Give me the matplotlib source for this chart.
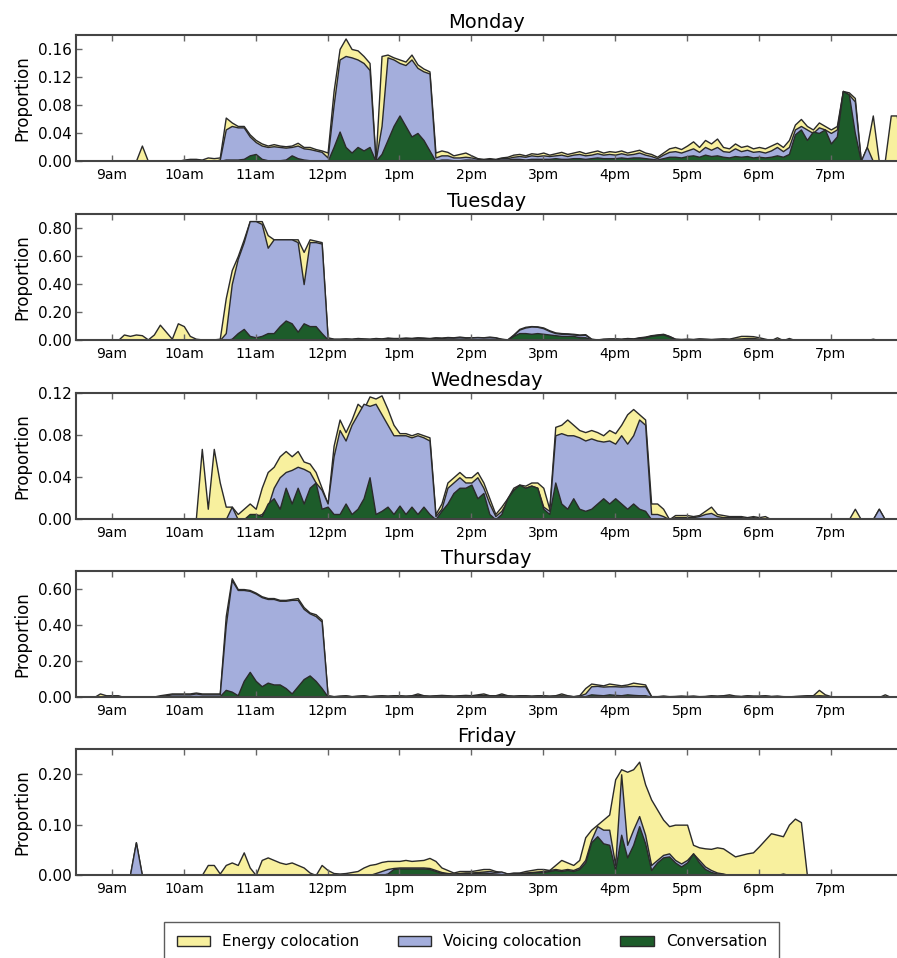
import matplotlib.pyplot as plt
from matplotlib.patches import Patch
import numpy as np

# one sample every 5 minutes, 8:30am .. 8:00pm (hours of the day)
times = 8.5 + np.arange(139) * 5 / 60.0

# each row below is one hour (:00 :05 ... :55); first row starts at 8:30
mon_energy = [
    0, 0, 0, 0, 0, 0,
    0, 0, 0, 0, 0, 0.022, 0, 0, 0, 0, 0, 0,
    0.002, 0.003, 0.003, 0.002, 0.005, 0.004, 0.005, 0.062, 0.055, 0.05, 0.05, 0.038,
    0.03, 0.025, 0.022, 0.024, 0.022, 0.021, 0.022, 0.026, 0.02, 0.02, 0.017, 0.015,
    0.012, 0.1, 0.16, 0.175, 0.16, 0.158, 0.15, 0.14, 0.0, 0.15, 0.152, 0.148,
    0.145, 0.142, 0.152, 0.138, 0.132, 0.128, 0.012, 0.015, 0.013, 0.008, 0.01, 0.012,
    0.008, 0.004, 0.003, 0.004, 0.003, 0.005, 0.006, 0.009, 0.01, 0.008, 0.011, 0.01,
    0.012, 0.009, 0.011, 0.013, 0.01, 0.012, 0.014, 0.011, 0.013, 0.015, 0.012, 0.014,
    0.013, 0.015, 0.012, 0.014, 0.016, 0.012, 0.01, 0.006, 0.012, 0.018, 0.02, 0.017,
    0.022, 0.028, 0.02, 0.03, 0.025, 0.032, 0.02, 0.018, 0.025, 0.02, 0.022, 0.018,
    0.02, 0.018, 0.022, 0.026, 0.02, 0.03, 0.052, 0.06, 0.05, 0.045, 0.055, 0.05,
    0.045, 0.05, 0.1, 0.098, 0.09, 0.0, 0.02, 0.065, 0.0, 0.0, 0.065, 0.065,
    0]
mon_voicing = [
    0, 0, 0, 0, 0, 0,
    0, 0, 0, 0, 0, 0, 0, 0, 0, 0, 0, 0,
    0, 0, 0, 0, 0, 0, 0.002, 0.045, 0.05, 0.048, 0.048, 0.035,
    0.027, 0.022, 0.02, 0.021, 0.02, 0.019, 0.02, 0.022, 0.018, 0.017, 0.015, 0.013,
    0.005, 0.08, 0.145, 0.15, 0.148, 0.145, 0.14, 0.13, 0.0, 0.05, 0.148, 0.145,
    0.14, 0.137, 0.145, 0.133, 0.128, 0.125, 0.005, 0.008, 0.008, 0.005, 0.005, 0.006,
    0.005, 0.003, 0.002, 0.003, 0.002, 0.004, 0.004, 0.006, 0.007, 0.006, 0.008, 0.007,
    0.008, 0.007, 0.008, 0.009, 0.007, 0.009, 0.01, 0.008, 0.009, 0.011, 0.009, 0.01,
    0.009, 0.011, 0.009, 0.01, 0.012, 0.009, 0.007, 0.004, 0.009, 0.013, 0.014, 0.012,
    0.015, 0.018, 0.013, 0.02, 0.016, 0.02, 0.014, 0.013, 0.018, 0.014, 0.016, 0.013,
    0.014, 0.012, 0.015, 0.02, 0.014, 0.02, 0.045, 0.05, 0.045, 0.04, 0.048, 0.045,
    0.04, 0.045, 0.1, 0.095, 0.085, 0.0, 0.02, 0, 0, 0, 0, 0,
    0]
mon_conversation = [
    0, 0, 0, 0, 0, 0,
    0, 0, 0, 0, 0, 0, 0, 0, 0, 0, 0, 0,
    0, 0, 0, 0, 0, 0, 0, 0.002, 0.002, 0.002, 0.003, 0.008,
    0.01, 0.003, 0.001, 0.001, 0.001, 0.002, 0.008, 0.004, 0.002, 0.001, 0.001, 0.0,
    0.0, 0.02, 0.042, 0.02, 0.012, 0.02, 0.015, 0.02, 0.0, 0.01, 0.03, 0.05,
    0.065, 0.05, 0.035, 0.04, 0.03, 0.015, 0.0, 0.002, 0.002, 0.001, 0.001, 0.002,
    0.002, 0.001, 0.001, 0.001, 0.001, 0.002, 0.002, 0.003, 0.003, 0.002, 0.003, 0.003,
    0.003, 0.003, 0.004, 0.003, 0.003, 0.004, 0.004, 0.003, 0.004, 0.005, 0.004, 0.004,
    0.004, 0.005, 0.004, 0.005, 0.005, 0.004, 0.003, 0.002, 0.004, 0.006, 0.006, 0.005,
    0.007, 0.008, 0.006, 0.009, 0.007, 0.008, 0.006, 0.005, 0.007, 0.006, 0.007, 0.005,
    0.006, 0.005, 0.006, 0.008, 0.006, 0.01, 0.038, 0.045, 0.03, 0.042, 0.04, 0.045,
    0.025, 0.035, 0.1, 0.095, 0.04, 0.0, 0, 0, 0, 0, 0, 0,
    0]

tue_energy = [
    0, 0, 0, 0, 0, 0,
    0, 0, 0.04, 0.03, 0.04, 0.035, 0.005, 0.04, 0.11, 0.06, 0.01, 0.12,
    0.1, 0.03, 0.01, 0.005, 0.005, 0.005, 0.01, 0.3, 0.5, 0.6, 0.72, 0.85,
    0.85, 0.85, 0.75, 0.72, 0.72, 0.72, 0.72, 0.72, 0.63, 0.72, 0.71, 0.7,
    0.02, 0.01, 0.01, 0.012, 0.01, 0.015, 0.012, 0.01, 0.015, 0.012, 0.018, 0.015,
    0.015, 0.018, 0.016, 0.02, 0.018, 0.015, 0.02, 0.018, 0.022, 0.02, 0.025, 0.02,
    0.02, 0.022, 0.02, 0.025, 0.02, 0.01, 0.005, 0.04, 0.08, 0.095, 0.1, 0.098,
    0.09, 0.07, 0.055, 0.05, 0.048, 0.045, 0.04, 0.042, 0.01, 0.005, 0.01, 0.012,
    0.012, 0.01, 0.015, 0.012, 0.02, 0.025, 0.035, 0.04, 0.045, 0.03, 0.01, 0.008,
    0.01, 0.008, 0.012, 0.01, 0.008, 0.01, 0.012, 0.01, 0.02, 0.03, 0.03, 0.028,
    0.02, 0.01, 0.0, 0.02, 0.0, 0.015, 0.0, 0.0, 0.005, 0.0, 0.0, 0.0,
    0, 0, 0, 0, 0, 0, 0, 0.01, 0, 0, 0, 0,
    0]
tue_voicing = [
    0, 0, 0, 0, 0, 0,
    0, 0, 0, 0, 0, 0, 0, 0, 0, 0, 0, 0,
    0, 0, 0, 0, 0, 0, 0, 0.05, 0.4, 0.58, 0.7, 0.85,
    0.85, 0.83, 0.66, 0.72, 0.72, 0.72, 0.72, 0.7, 0.4, 0.7, 0.7, 0.69,
    0.015, 0.008, 0.008, 0.01, 0.008, 0.012, 0.01, 0.008, 0.012, 0.01, 0.015, 0.012,
    0.012, 0.015, 0.013, 0.017, 0.015, 0.012, 0.017, 0.015, 0.018, 0.017, 0.02, 0.017,
    0.018, 0.02, 0.018, 0.02, 0.018, 0.008, 0.004, 0.035, 0.075, 0.09, 0.097, 0.095,
    0.085, 0.065, 0.05, 0.045, 0.045, 0.04, 0.035, 0.038, 0.008, 0.004, 0.008, 0.01,
    0.01, 0.008, 0.012, 0.01, 0.018, 0.022, 0.032, 0.038, 0.042, 0.028, 0.008, 0.006,
    0.008, 0.006, 0.01, 0.008, 0.006, 0.008, 0.01, 0.008, 0.01, 0.012, 0.015, 0.015,
    0.01, 0.005, 0, 0, 0, 0, 0, 0, 0, 0, 0, 0,
    0, 0, 0, 0, 0, 0, 0, 0, 0, 0, 0, 0,
    0]
tue_conversation = [
    0, 0, 0, 0, 0, 0,
    0, 0, 0, 0, 0, 0, 0, 0, 0, 0, 0, 0,
    0, 0, 0, 0, 0, 0, 0, 0, 0.01, 0.05, 0.08, 0.03,
    0.02, 0.03, 0.05, 0.05, 0.1, 0.14, 0.12, 0.06, 0.12, 0.1, 0.1, 0.05,
    0.005, 0.004, 0.004, 0.005, 0.004, 0.005, 0.004, 0.004, 0.005, 0.004, 0.006, 0.005,
    0.005, 0.006, 0.005, 0.007, 0.006, 0.005, 0.007, 0.006, 0.008, 0.007, 0.008, 0.007,
    0.005, 0.005, 0.005, 0.005, 0.005, 0.003, 0.002, 0.03, 0.05, 0.05, 0.045, 0.05,
    0.045, 0.04, 0.035, 0.03, 0.03, 0.03, 0.02, 0.02, 0.005, 0.002, 0.005, 0.005,
    0.008, 0.006, 0.01, 0.008, 0.015, 0.02, 0.03, 0.035, 0.04, 0.025, 0.006, 0.004,
    0.006, 0.004, 0.008, 0.006, 0.004, 0.006, 0.005, 0.004, 0.005, 0.005, 0.006, 0.005,
    0.004, 0.002, 0, 0, 0, 0, 0, 0, 0, 0, 0, 0,
    0, 0, 0, 0, 0, 0, 0, 0, 0, 0, 0, 0,
    0]

wed_energy = [
    0, 0, 0, 0, 0, 0,
    0, 0, 0, 0, 0, 0, 0, 0, 0, 0, 0, 0,
    0, 0, 0, 0.067, 0.01, 0.067, 0.035, 0.012, 0.012, 0.005, 0.01, 0.015,
    0.01, 0.03, 0.045, 0.05, 0.06, 0.065, 0.06, 0.065, 0.055, 0.053, 0.045, 0.03,
    0.015, 0.07, 0.095, 0.083, 0.095, 0.11, 0.105, 0.117, 0.115, 0.118, 0.105, 0.09,
    0.082, 0.082, 0.08, 0.082, 0.08, 0.078, 0.005, 0.015, 0.035, 0.04, 0.045, 0.04,
    0.04, 0.045, 0.035, 0.02, 0.005, 0.012, 0.02, 0.03, 0.033, 0.032, 0.035, 0.035,
    0.03, 0.01, 0.088, 0.09, 0.095, 0.09, 0.085, 0.083, 0.085, 0.083, 0.08, 0.085,
    0.082, 0.09, 0.1, 0.105, 0.1, 0.095, 0.015, 0.015, 0.01, 0.0, 0.004, 0.004,
    0.004, 0.003, 0.004, 0.008, 0.012, 0.005, 0.004, 0.003, 0.003, 0.003, 0.002, 0.003,
    0.002, 0.003, 0, 0, 0, 0, 0, 0, 0, 0, 0, 0,
    0, 0, 0, 0, 0.01, 0, 0, 0, 0.01, 0, 0, 0,
    0]
wed_voicing = [
    0, 0, 0, 0, 0, 0,
    0, 0, 0, 0, 0, 0, 0, 0, 0, 0, 0, 0,
    0, 0, 0, 0, 0, 0, 0, 0, 0.012, 0, 0, 0.003,
    0.003, 0.005, 0.012, 0.03, 0.04, 0.045, 0.047, 0.05, 0.048, 0.045, 0.035, 0.028,
    0.015, 0.06, 0.085, 0.075, 0.09, 0.1, 0.11, 0.108, 0.11, 0.1, 0.09, 0.08,
    0.08, 0.08, 0.078, 0.08, 0.078, 0.075, 0.003, 0.01, 0.03, 0.035, 0.04, 0.035,
    0.035, 0.04, 0.03, 0.015, 0.003, 0.008, 0.018, 0.028, 0.03, 0.03, 0.032, 0.03,
    0.012, 0.008, 0.08, 0.082, 0.08, 0.08, 0.078, 0.075, 0.077, 0.075, 0.074, 0.075,
    0.072, 0.08, 0.072, 0.08, 0.095, 0.09, 0.005, 0.005, 0.003, 0, 0.002, 0.002,
    0.002, 0.002, 0.003, 0.005, 0.006, 0.003, 0.002, 0.002, 0.002, 0.002, 0.001, 0.002,
    0.001, 0.001, 0, 0, 0, 0, 0, 0, 0, 0, 0, 0,
    0, 0, 0, 0, 0, 0, 0, 0, 0.01, 0, 0, 0,
    0]
wed_conversation = [
    0, 0, 0, 0, 0, 0,
    0, 0, 0, 0, 0, 0, 0, 0, 0, 0, 0, 0,
    0, 0, 0, 0, 0, 0, 0, 0, 0, 0, 0, 0.005,
    0.005, 0.003, 0.015, 0.02, 0.01, 0.03, 0.015, 0.03, 0.015, 0.03, 0.035, 0.01,
    0.012, 0.005, 0.005, 0.015, 0.005, 0.01, 0.02, 0.04, 0.005, 0.008, 0.012, 0.005,
    0.013, 0.005, 0.012, 0.005, 0.012, 0.005, 0.0, 0.008, 0.015, 0.025, 0.03, 0.03,
    0.033, 0.02, 0.025, 0.005, 0.0, 0.005, 0.02, 0.028, 0.033, 0.03, 0.032, 0.03,
    0.01, 0.005, 0.035, 0.015, 0.01, 0.02, 0.01, 0.008, 0.01, 0.015, 0.02, 0.015,
    0.02, 0.015, 0.01, 0.015, 0.01, 0.008, 0, 0, 0, 0, 0, 0,
    0, 0, 0, 0, 0, 0, 0, 0, 0, 0, 0, 0,
    0, 0, 0, 0, 0, 0, 0, 0, 0, 0, 0, 0,
    0, 0, 0, 0, 0, 0, 0, 0, 0, 0, 0, 0,
    0]

thu_energy = [
    0, 0, 0, 0, 0.02, 0.01,
    0.01, 0.01, 0, 0, 0, 0, 0, 0.003, 0.01, 0.015, 0.02, 0.02,
    0.02, 0.02, 0.025, 0.02, 0.02, 0.02, 0.02, 0.45, 0.66, 0.6, 0.6, 0.595,
    0.58, 0.56, 0.55, 0.55, 0.54, 0.54, 0.545, 0.55, 0.5, 0.47, 0.46, 0.43,
    0.01, 0.005, 0.008, 0.01, 0.005, 0.008, 0.01, 0.005, 0.008, 0.01, 0.008, 0.01,
    0.01, 0.008, 0.01, 0.02, 0.01, 0.008, 0.01, 0.012, 0.01, 0.008, 0.01, 0.012,
    0.01, 0.015, 0.02, 0.01, 0.01, 0.02, 0.01, 0.008, 0.01, 0.01, 0.008, 0.01,
    0.01, 0.008, 0.01, 0.02, 0.01, 0.005, 0.01, 0.05, 0.075, 0.07, 0.065, 0.075,
    0.07, 0.065, 0.07, 0.08, 0.075, 0.07, 0.005, 0.005, 0.008, 0.005, 0.006, 0.008,
    0.006, 0.008, 0.005, 0.006, 0.01, 0.008, 0.01, 0.015, 0.008, 0.006, 0.01, 0.008,
    0.008, 0.01, 0.006, 0.008, 0.005, 0.004, 0.006, 0.008, 0.01, 0.01, 0.04, 0.015,
    0.005, 0, 0, 0, 0, 0, 0, 0, 0, 0.015, 0, 0,
    0]
thu_voicing = [
    0, 0, 0, 0, 0, 0,
    0, 0, 0, 0, 0, 0, 0, 0, 0.005, 0.01, 0.015, 0.015,
    0.015, 0.015, 0.02, 0.015, 0.015, 0.015, 0.015, 0.4, 0.65, 0.595, 0.595, 0.59,
    0.575, 0.555, 0.545, 0.545, 0.535, 0.535, 0.54, 0.54, 0.49, 0.465, 0.45, 0.42,
    0.008, 0.004, 0.006, 0.008, 0.004, 0.006, 0.008, 0.004, 0.006, 0.008, 0.006, 0.008,
    0.008, 0.006, 0.008, 0.012, 0.008, 0.006, 0.008, 0.01, 0.008, 0.006, 0.008, 0.01,
    0.008, 0.01, 0.012, 0.008, 0.008, 0.012, 0.008, 0.006, 0.008, 0.008, 0.006, 0.008,
    0.008, 0.006, 0.008, 0.01, 0.008, 0.004, 0.008, 0.02, 0.06, 0.062, 0.058, 0.06,
    0.06, 0.058, 0.06, 0.062, 0.06, 0.06, 0.004, 0.004, 0.006, 0.004, 0.005, 0.006,
    0.005, 0.006, 0.004, 0.005, 0.007, 0.006, 0.008, 0.008, 0.006, 0.005, 0.008, 0.006,
    0.006, 0.008, 0.005, 0.006, 0.004, 0.003, 0.005, 0.006, 0.008, 0.008, 0.01, 0.008,
    0.003, 0, 0, 0, 0, 0, 0, 0, 0, 0, 0, 0,
    0]
thu_conversation = [
    0, 0, 0, 0, 0, 0,
    0, 0, 0, 0, 0, 0, 0, 0, 0.002, 0.004, 0.005, 0.005,
    0.005, 0.005, 0.006, 0.005, 0.005, 0.005, 0.005, 0.04, 0.03, 0.01, 0.09, 0.14,
    0.09, 0.06, 0.08, 0.07, 0.07, 0.05, 0.02, 0.06, 0.1, 0.12, 0.09, 0.05,
    0.003, 0.002, 0.003, 0.003, 0.002, 0.003, 0.003, 0.002, 0.003, 0.003, 0.002, 0.003,
    0.003, 0.002, 0.003, 0.004, 0.003, 0.002, 0.003, 0.004, 0.003, 0.002, 0.003, 0.004,
    0.003, 0.004, 0.004, 0.003, 0.003, 0.004, 0.003, 0.002, 0.003, 0.003, 0.002, 0.003,
    0.003, 0.002, 0.003, 0.004, 0.003, 0.002, 0.003, 0.005, 0.015, 0.012, 0.01, 0.015,
    0.012, 0.01, 0.015, 0.012, 0.01, 0.01, 0.002, 0.002, 0.003, 0.002, 0.002, 0.003,
    0.002, 0.003, 0.002, 0.002, 0.003, 0.002, 0.003, 0.003, 0.002, 0.002, 0.003, 0.002,
    0.002, 0.003, 0.002, 0.002, 0.002, 0.001, 0.002, 0.002, 0.003, 0.003, 0.003, 0.002,
    0, 0, 0, 0, 0, 0, 0, 0, 0, 0, 0, 0,
    0]

fri_energy = [
    0, 0, 0, 0, 0, 0,
    0, 0, 0, 0, 0.065, 0, 0, 0, 0, 0, 0, 0,
    0, 0, 0, 0, 0.02, 0.02, 0.003, 0.02, 0.025, 0.02, 0.045, 0.015,
    0.0, 0.03, 0.035, 0.03, 0.025, 0.022, 0.025, 0.02, 0.015, 0.005, 0.0, 0.02,
    0.01, 0.004, 0.003, 0.004, 0.006, 0.008, 0.015, 0.02, 0.022, 0.026, 0.028, 0.028,
    0.028, 0.03, 0.028, 0.029, 0.03, 0.034, 0.028, 0.015, 0.01, 0.005, 0.008, 0.008,
    0.008, 0.01, 0.012, 0.012, 0.008, 0.006, 0.003, 0.005, 0.005, 0.008, 0.01, 0.012,
    0.012, 0.01, 0.02, 0.03, 0.025, 0.02, 0.03, 0.075, 0.09, 0.1, 0.11, 0.12,
    0.19, 0.21, 0.205, 0.21, 0.225, 0.18, 0.15, 0.13, 0.11, 0.097, 0.1, 0.1,
    0.1, 0.06, 0.055, 0.053, 0.052, 0.055, 0.053, 0.045, 0.037, 0.04, 0.043, 0.045,
    0.057, 0.07, 0.083, 0.08, 0.077, 0.1, 0.112, 0.105, 0.0, 0, 0, 0,
    0, 0, 0, 0, 0, 0, 0, 0, 0, 0, 0, 0,
    0]
fri_voicing = [
    0, 0, 0, 0, 0, 0,
    0, 0, 0, 0, 0.065, 0, 0, 0, 0, 0, 0, 0,
    0, 0, 0, 0, 0, 0, 0, 0, 0, 0, 0, 0,
    0, 0, 0, 0, 0, 0, 0, 0, 0, 0, 0, 0,
    0, 0, 0, 0, 0, 0, 0, 0, 0.004, 0.008, 0.012, 0.014,
    0.015, 0.015, 0.015, 0.015, 0.015, 0.014, 0.01, 0.006, 0.004, 0.003, 0.004, 0.005,
    0.005, 0.006, 0.007, 0.008, 0.006, 0.007, 0.003, 0.003, 0.004, 0.005, 0.006, 0.007,
    0.008, 0.01, 0.012, 0.01, 0.012, 0.01, 0.015, 0.03, 0.07, 0.097, 0.09, 0.09,
    0.02, 0.2, 0.06, 0.09, 0.117, 0.08, 0.02, 0.03, 0.04, 0.043, 0.03, 0.023,
    0.03, 0.043, 0.03, 0.017, 0.01, 0.005, 0.003, 0, 0, 0, 0, 0,
    0, 0, 0, 0, 0.003, 0, 0, 0, 0, 0, 0, 0,
    0, 0, 0, 0, 0, 0, 0, 0, 0, 0, 0, 0,
    0]
fri_conversation = [
    0, 0, 0, 0, 0, 0,
    0, 0, 0, 0, 0, 0, 0, 0, 0, 0, 0, 0,
    0, 0, 0, 0, 0, 0, 0, 0, 0, 0, 0, 0,
    0, 0, 0, 0, 0, 0, 0, 0, 0, 0, 0, 0,
    0, 0, 0, 0, 0, 0, 0, 0, 0, 0, 0.003, 0.012,
    0.013, 0.013, 0.013, 0.013, 0.013, 0.012, 0.008, 0.004, 0.003, 0.002, 0.003, 0.004,
    0.004, 0.004, 0.005, 0.004, 0.003, 0.002, 0.002, 0.003, 0.003, 0.004, 0.005, 0.006,
    0.006, 0.008, 0.01, 0.008, 0.01, 0.008, 0.012, 0.025, 0.065, 0.077, 0.063, 0.06,
    0.01, 0.08, 0.035, 0.06, 0.097, 0.063, 0.01, 0.025, 0.035, 0.037, 0.025, 0.017,
    0.025, 0.043, 0.025, 0.012, 0.006, 0.003, 0.002, 0, 0, 0, 0, 0,
    0, 0, 0, 0, 0, 0, 0, 0, 0, 0, 0, 0,
    0, 0, 0, 0, 0, 0, 0, 0, 0, 0, 0, 0,
    0]

days = ['Monday', 'Tuesday', 'Wednesday', 'Thursday', 'Friday']
energy = [mon_energy, tue_energy, wed_energy, thu_energy, fri_energy]
voicing = [mon_voicing, tue_voicing, wed_voicing, thu_voicing, fri_voicing]
conversation = [mon_conversation, tue_conversation, wed_conversation,
                thu_conversation, fri_conversation]
y_tops = [0.18, 0.9, 0.12, 0.7, 0.25]
y_ticks = [[0, 0.04, 0.08, 0.12, 0.16],
           [0, 0.2, 0.4, 0.6, 0.8],
           [0, 0.04, 0.08, 0.12],
           [0, 0.2, 0.4, 0.6],
           [0, 0.1, 0.2]]
hour_ticks = [9, 10, 11, 12, 13, 14, 15, 16, 17, 18, 19]
hour_labels = ['9am', '10am', '11am', '12pm', '1pm', '2pm', '3pm', '4pm',
               '5pm', '6pm', '7pm']
series_names = ['Energy colocation', 'Voicing colocation', 'Conversation']

yellow = '#f8f09e'
blue = '#a4aedc'
green = '#1d5c2a'
edge = '#2a2a2a'

fig = plt.figure(figsize=(8.97, 9.58), dpi=100)
bottoms = [0.832, 0.645, 0.458, 0.2724, 0.0866]

for i, day in enumerate(days):
    ax = fig.add_axes([0.0847, bottoms[i], 0.9153, 0.1315])
    ax.fill_between(times, 0, energy[i], facecolor=yellow, edgecolor=edge, lw=1.0)
    ax.fill_between(times, 0, voicing[i], facecolor=blue, edgecolor=edge, lw=1.0)
    ax.fill_between(times, 0, conversation[i], facecolor=green, edgecolor=edge, lw=1.0)
    ax.set_xlim(8.5, 19.92)
    ax.set_ylim(0, y_tops[i])
    ax.set_yticks(y_ticks[i])
    ax.set_yticklabels(['%.2f' % v for v in y_ticks[i]])
    ax.set_xticks(hour_ticks)
    ax.set_xticklabels(hour_labels)
    ax.tick_params(axis='x', direction='in', top=True, length=4, width=1,
                   color='#666', labelsize=10, pad=5)
    ax.tick_params(axis='y', direction='in', length=4, width=1, color='#666',
                   labelsize=11, pad=3)
    for s in ['left', 'top', 'bottom']:
        ax.spines[s].set_color('#444')
        ax.spines[s].set_linewidth(1.5)
    ax.spines['right'].set_visible(False)
    ax.set_ylabel('Proportion', fontsize=12, labelpad=5)
    ax.set_title(day, fontsize=14, pad=5)

handles = [Patch(facecolor=c, edgecolor=edge) for c in [yellow, blue, green]]
fig.legend(handles, series_names, loc='upper center', bbox_to_anchor=(0.526, 0.0376),
           ncol=3, fancybox=False, edgecolor='#333', fontsize=11, handlelength=2.2,
           handleheight=0.6, columnspacing=2.5, borderaxespad=0, borderpad=0.8)

plt.savefig('out.png', dpi=100)
